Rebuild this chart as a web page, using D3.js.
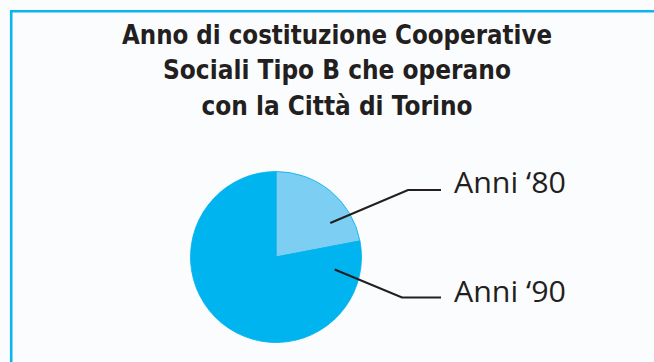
<!DOCTYPE html>
<html><head><meta charset="utf-8">
<script src="https://cdn.jsdelivr.net/npm/d3@7/dist/d3.min.js"></script>
<style>html,body{margin:0;padding:0;background:#fbfcfe;}svg{display:block;}</style>
</head><body>
<script>
const titleLines = ["Anno di costituzione Cooperative", "Sociali Tipo B che operano", "con la Città di Torino"];
const categories = ["Anni ‘80", "Anni ‘90"];
const values = [22, 78];
const colors = ["#7ccff3", "#00b5ef"];

const W = 654, H = 362;
const svg = d3.select("body").append("svg").attr("width", W).attr("height", H);
svg.append("rect").attr("width", W).attr("height", H).attr("fill", "#fbfcfe");

// frame (top + left)
svg.append("path").attr("d", `M11.2,${H} V11.2 H${W}`).attr("fill", "none")
  .attr("stroke", "#0db4ee").attr("stroke-width", 2.6);

// title
const titleW = [430, 348, 271];
const titleBase = [43.5, 79, 115];
svg.append("g").selectAll("text").data(titleLines).join("text")
  .attr("x", 337).attr("y", (d, i) => titleBase[i])
  .attr("text-anchor", "middle")
  .attr("font-family", "'DejaVu Sans', sans-serif").attr("font-weight", "bold")
  .attr("font-size", 26).attr("fill", "#231f20")
  .attr("textLength", (d, i) => titleW[i]).attr("lengthAdjust", "spacingAndGlyphs")
  .text(d => d);

// pie
const cx = 276, cy = 257, R = 85.5;
const pie = d3.pie().sort(null).value(d => d)(values);
const arc = d3.arc().innerRadius(0).outerRadius(R);
const g = svg.append("g").attr("transform", `translate(${cx},${cy})`);
g.selectAll("path").data(pie).join("path")
  .attr("d", arc).attr("fill", (d, i) => colors[i])
  .attr("stroke", "#00b0ec").attr("stroke-width", 0.8);

// leader lines & labels
const anchorAngle = [58, 102], anchorR = [64, 60];
const elbowY = [190, 297.5], elbowX = [408, 402];
const lineEnd = 441, textX = 454;
categories.forEach((c, i) => {
  const a = anchorAngle[i] * Math.PI / 180;
  const x0 = cx + anchorR[i] * Math.sin(a), y0 = cy - anchorR[i] * Math.cos(a);
  svg.append("path").attr("d", `M${x0},${y0} L${elbowX[i]},${elbowY[i]} H${lineEnd}`)
    .attr("fill", "none").attr("stroke", "#231f20").attr("stroke-width", 2.2);
  svg.append("text").attr("x", textX).attr("y", elbowY[i] + 2.5 + (i ? 1.7 : 0))
    .attr("font-family", "'Open Sans', sans-serif").attr("font-weight", 400)
    .attr("font-size", 30).attr("fill", "#231f20")
    .attr("textLength", 112).attr("lengthAdjust", "spacingAndGlyphs")
    .text(c);
});
</script>
</body></html>
